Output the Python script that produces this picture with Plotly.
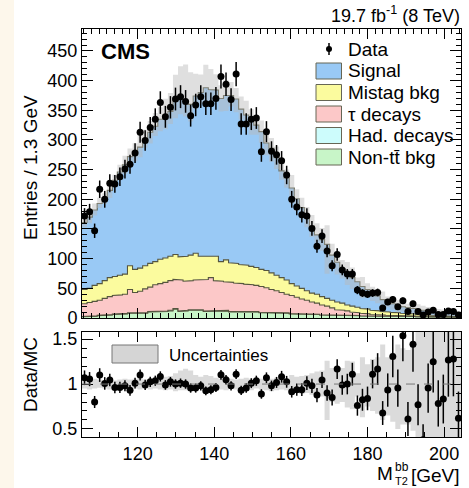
import numpy as np
import plotly.graph_objects as go

# ---------------- data ----------------
bin_start = 105.48
bin_width = 1.319

data = [172,179,147,217,200,227,226,238,251,259,
        278,313,299,321,335,363,339,355,369,373,
        365,341,359,373,361,361,370,407,394,368,
        411,327,327,335,337,280,314,281,275,265,
        241,200,187,174,172,151,121,138,113,88,
        107,81,74,74,47,42,40,42,43,17,
        27,31,19,29,11,24,11,5,10,13,
        6,6,12,11,5]

ratio = [1.07,1.055,0.80,1.10,1.007,1.045,0.962,0.962,0.98,0.93,
         1.01,1.10,0.99,1.025,1.037,1.085,0.99,1.025,1.0,1.01,
         1.0,0.955,0.955,0.98,0.925,0.937,0.962,1.103,1.048,0.98,
         1.11,0.93,0.955,1.01,1.037,0.89,1.07,0.98,1.018,1.081,
         1.025,0.914,0.937,0.937,1.01,0.98,0.877,1.045,0.90,0.85,
         1.167,0.99,1.0,1.11,0.76,0.825,0.84,1.11,1.167,0.677,
         0.933,1.307,0.955,1.537,0.61,1.444,0.77,0.38,0.955,1.248,
         0.784,0.833,1.267,1.278,0.618]

# stacked levels (top edge of each stacked layer)
mc_total = [161,170,182,193,202,215,232,246,258,272,
            278,288,302,313,323,335,342,348,366,369,
            365,360,374,380,388,385,384,370,375,375,
            369,352,342,332,325,314,295,286,270,248,
            236,219,201,186,170,155,140,132,124,106,
            94,83,75,68,61,53,48,41,37,31,
            28,24,21,19,17.5,16,14.5,13,11.5,10.5,
            9.5,9,8.5,8,7.5]

mistag_top = [48,50,55,58,63,68,70,72,74,88,
              82,84,88,92,95,99,101,104,107,103,
              104,106,109,104,103,103,104,95,98,93,
              92,90,89,87,85,82,80,76,72,68,
              64,58,54,50,46,42,40,36,33,30,
              27,25,22,20,18,16,15,13,12,11,
              10,9.5,9,8,7.5,7,6,5.5,5,4.5,
              4,4,3.5,3.2,3]

tau_top = [24,26,28,30,33,36,38,39,40,48,
           43,45,49,52,56,58,60,63,65,64,
           62,63,64,64,65,68,63,62,61,60,
           59,58,57,56,55,53,51,48,46,43,
           40,38,35,32,30,27,25,22,20,17,
           14,13,12,10,9,8,7,6,5.5,5,
           4.6,4.4,4,3.8,3.6,3.4,3.2,3,2.9,2.8,
           2.7,2.6,2.6,2.5,2.2]

had = [0.5,0.5,0.6,0.5,0.6,0.7,0.6,0.7,0.8,0.7,
       0.8,0.8,0.9,0.8,0.9,1.0,0.9,1.0,1.0,0.9,
       1.0,1.0,0.9,1.0,0.9,1.0,0.9,0.9,0.8,0.9,
       0.8,0.8,0.8,0.7,0.8,0.7,0.7,0.6,0.7,0.6,
       0.6,0.5,0.6,0.5,0.5,0.5,0.4,0.5,0.4,0.4,
       0.4,0.3,0.4,0.3,0.3,0.3,0.3,0.3,0.2,0.2,
       0.2,0.2,0.2,0.2,0.2,0.2,0.2,0.2,0.2,0.2,
       0.2,0.2,0.2,0.2,0.2]

nontt_top = [2,3,3,4,5,5,6,7,7,8,
             9,8,8,10,10,11,11,12,15,11,
             12,13,12,13,11,12,12,11,12,10,
             11,10,11,10,10,9,9,9,8,8,
             8,7,7,7,6,6,6,5,5,5,
             5,4,4,4,4,3.5,3.5,3,3,3,
             3,3,2.5,2.5,2.5,2.5,2,2,2,2,
             2,2,2,2,1.5]

band_hi = [1.05,1.04,1.06,1.05,1.04,1.05,1.04,1.05,1.06,1.05,
           1.06,1.07,1.05,1.06,1.07,1.06,1.08,1.09,1.12,1.15,
           1.17,1.15,1.10,1.08,1.10,1.09,1.07,1.06,1.07,1.06,
           1.05,1.06,1.07,1.06,1.05,1.06,1.05,1.06,1.07,1.08,
           1.06,1.10,1.08,1.09,1.10,1.12,1.14,1.15,1.26,1.18,
           1.20,1.18,1.26,1.25,1.12,1.30,1.22,1.28,1.30,1.44,
           1.30,1.35,1.44,1.40,1.38,1.45,1.60,1.60,1.60,1.60,
           1.60,1.60,1.60,1.60,1.60]
band_lo = [0.95,0.94,0.95,0.96,0.95,0.94,0.95,0.96,0.94,0.95,
           0.95,0.94,0.95,0.94,0.95,0.94,0.93,0.94,0.92,0.93,
           0.93,0.92,0.94,0.95,0.94,0.93,0.95,0.94,0.93,0.95,
           0.94,0.95,0.94,0.93,0.95,0.94,0.93,0.92,0.93,0.94,
           0.93,0.88,0.90,0.89,0.90,0.88,0.88,0.86,0.60,0.80,
           0.78,0.80,0.74,0.72,0.86,0.63,0.75,0.70,0.67,0.60,
           0.65,0.58,0.50,0.55,0.55,0.48,0.40,0.40,0.40,0.40,
           0.40,0.40,0.40,0.40,0.40]

legend_labels = ["Data", "Signal", "Mistag bkg", "\u03c4 decays", "Had. decays", "Non-tt\u0304 bkg"]
colors = {"Signal": "#99c9f5", "Mistag bkg": "#fbfb9e", "\u03c4 decays": "#fcc8c8",
          "Had. decays": "#cdfcfc", "Non-tt\u0304 bkg": "#c8f5c8"}

# ---------------- derived ----------------
n = len(data)
edges = bin_start + bin_width * np.arange(n + 1)
centers = edges[:-1] + bin_width / 2
data_a = np.array(data, float)
mc = np.array(mc_total, float)
had_top = np.array(nontt_top) + np.array(had)

def stairs(vals):
    x = np.repeat(edges, 2)[1:-1]
    y = np.repeat(np.asarray(vals, float), 2)
    return x, y

def boxes(lo, hi):
    xs, ys = [], []
    for i in range(n):
        x0, x1 = edges[i], edges[i + 1]
        xs += [x0, x1, x1, x0, x0, None]
        ys += [lo[i], lo[i], hi[i], hi[i], lo[i], None]
    return xs, ys

XR = [bin_start, edges[-1]]
fig = go.Figure()
outline = "#55553f"

# stacked histogram (main panel)
sx, sy = stairs(np.zeros(n))
fig.add_trace(go.Scatter(x=sx, y=sy, mode="lines", line=dict(width=0), showlegend=False,
                         hoverinfo="skip", xaxis="x", yaxis="y"))
layers = [(nontt_top, colors["Non-tt\u0304 bkg"]), (had_top, colors["Had. decays"]),
          (tau_top, colors["\u03c4 decays"]), (mistag_top, colors["Mistag bkg"]),
          (mc_total, colors["Signal"])]
for vals, col in layers:
    sx, sy = stairs(vals)
    fig.add_trace(go.Scatter(x=sx, y=sy, mode="lines", fill="tonexty", fillcolor=col,
                             line=dict(color=outline, width=1.1), showlegend=False,
                             hoverinfo="skip", xaxis="x", yaxis="y"))

# uncertainty band main
bx, by = boxes(mc * np.array(band_lo), mc * np.array(band_hi))
fig.add_trace(go.Scatter(x=bx, y=by, mode="lines", fill="toself",
                         fillcolor="rgba(185,185,185,0.45)", line=dict(width=0),
                         showlegend=False, hoverinfo="skip", xaxis="x", yaxis="y"))

# data
fig.add_trace(go.Scatter(x=centers, y=data_a, mode="markers",
                         marker=dict(color="black", size=7),
                         error_y=dict(type="data", array=np.sqrt(data_a), color="black",
                                      thickness=1.5, width=0),
                         showlegend=False, xaxis="x", yaxis="y"))

# ratio panel band
bx, by = boxes(band_lo, band_hi)
fig.add_trace(go.Scatter(x=bx, y=by, mode="lines", fill="toself",
                         fillcolor="rgba(190,190,190,0.55)", line=dict(width=0),
                         showlegend=False, hoverinfo="skip", xaxis="x2", yaxis="y2"))
fig.add_trace(go.Scatter(x=centers, y=ratio, mode="markers",
                         marker=dict(color="black", size=7),
                         error_y=dict(type="data", array=np.sqrt(data_a) / mc, color="black",
                                      thickness=1.5, width=0),
                         showlegend=False, xaxis="x2", yaxis="y2", cliponaxis=True))

# ---------------- layout ----------------
W, H = 469, 488
L, R, T, B = 82, 8, 29, 51
PW, PH = W - L - R, H - T - B
def px(x): return (x - L) / PW
def py(y): return (H - B - y) / PH

FONT = "Liberation Sans, Arial, sans-serif"
axcommon = dict(showline=True, linecolor="black", linewidth=1, mirror="allticks",
                ticks="inside", tickcolor="black", showgrid=False, zeroline=False)

fig.update_layout(
    width=W, height=H, margin=dict(l=L, r=R, t=T, b=B),
    paper_bgcolor="white", plot_bgcolor="white",
    font=dict(family=FONT, size=18, color="black"),
    showlegend=False,
    xaxis=dict(domain=[0, 1], range=XR, anchor="y", showticklabels=False,
               dtick=20, tick0=0, ticklen=10,
               minor=dict(ticks="inside", dtick=2, ticklen=5, tickcolor="black"), **axcommon),
    yaxis=dict(domain=[py(318), 1], range=[0, 487], anchor="x", dtick=50, ticklen=11,
               tickfont=dict(size=18),
               minor=dict(ticks="inside", dtick=10, ticklen=5, tickcolor="black"), **axcommon),
    xaxis2=dict(domain=[0, 1], range=XR, anchor="y2", matches="x", dtick=20, tick0=0,
                ticklen=10, tickfont=dict(size=18),
                minor=dict(ticks="inside", dtick=5, ticklen=5, tickcolor="black"), **axcommon),
    yaxis2=dict(domain=[0, py(332)], range=[0.41, 1.58], anchor="x2",
                tickvals=[0.5, 1, 1.5], ticktext=["0.5", "1", "1.5"], ticklen=11,
                tickfont=dict(size=18),
                minor=dict(ticks="inside", dtick=0.1, ticklen=5, tickcolor="black"), **axcommon),
)

shapes = []
ann = []
# cream strip at left edge
shapes.append(dict(type="rect", xref="paper", yref="paper", x0=px(0), x1=px(14), y0=py(488), y1=py(0),
                   fillcolor="#fdf7eb", line=dict(width=0), layer="below"))
# dashed line at 1
shapes.append(dict(type="line", xref="x2", yref="y2", x0=XR[0], x1=XR[1], y0=1, y1=1,
                   line=dict(color="#777777", width=1, dash="dash")))

# legend
leg_y = [49, 71, 92.5, 114, 135.5, 157]
shapes.append(dict(type="line", xref="paper", yref="paper", x0=px(329), x1=px(329),
                   y0=py(leg_y[0] - 6), y1=py(leg_y[0] + 6), line=dict(color="black", width=1.5)))
shapes.append(dict(type="circle", xref="paper", yref="paper", x0=px(326), x1=px(332),
                   y0=py(leg_y[0] - 3), y1=py(leg_y[0] + 3), fillcolor="black", line=dict(width=0)))
for lab, yy in zip(legend_labels, leg_y):
    if lab != "Data":
        shapes.append(dict(type="rect", xref="paper", yref="paper", x0=px(316), x1=px(341.5),
                           y0=py(yy - 8), y1=py(yy + 8), fillcolor=colors[lab],
                           line=dict(color="#666655", width=1)))
    ann.append(dict(text=lab, xref="paper", yref="paper", x=px(346), y=py(yy), xanchor="left",
                    yanchor="middle", showarrow=False, font=dict(size=19)))

# Uncertainties legend in ratio
shapes.append(dict(type="rect", xref="paper", yref="paper", x0=px(112), x1=px(158),
                   y0=py(363), y1=py(345), fillcolor="rgba(195,195,195,0.7)",
                   line=dict(color="#777777", width=1)))
ann.append(dict(text="Uncertainties", xref="paper", yref="paper", x=px(167), y=py(355),
                xanchor="left", yanchor="middle", showarrow=False, font=dict(size=17)))

# CMS label and lumi
ann.append(dict(text="<b>CMS</b>", xref="paper", yref="paper", x=px(99), y=py(51),
                xanchor="left", yanchor="middle", showarrow=False, font=dict(size=22)))
ann.append(dict(text="19.7 fb<sup>-1</sup> (8 TeV)", xref="paper", yref="paper", x=px(462), y=py(15),
                xanchor="right", yanchor="middle", showarrow=False, font=dict(size=18)))

# axis titles
ann.append(dict(text="Entries / 1.3 GeV", xref="paper", yref="paper", x=px(30), y=py(168),
                xanchor="center", yanchor="middle", textangle=-90, showarrow=False, font=dict(size=19)))
ann.append(dict(text="Data/MC", xref="paper", yref="paper", x=px(30), y=py(375),
                xanchor="center", yanchor="middle", textangle=-90, showarrow=False, font=dict(size=19)))
ann.append(dict(text="M", xref="paper", yref="paper", x=px(376), y=py(474),
                xanchor="left", yanchor="middle", showarrow=False, font=dict(size=19),
                borderpad=0))
ann.append(dict(text="bb", xref="paper", yref="paper", x=px(394), y=py(467),
                xanchor="left", yanchor="middle", showarrow=False, font=dict(size=12),
                borderpad=0))
ann.append(dict(text="T2", xref="paper", yref="paper", x=px(394), y=py(481),
                xanchor="left", yanchor="middle", showarrow=False, font=dict(size=11),
                borderpad=0))
ann.append(dict(text="[GeV]", xref="paper", yref="paper", x=px(410), y=py(475),
                xanchor="left", yanchor="middle", showarrow=False, font=dict(size=19),
                borderpad=0))

fig.update_layout(shapes=shapes, annotations=ann)
fig.write_html("out.html")
